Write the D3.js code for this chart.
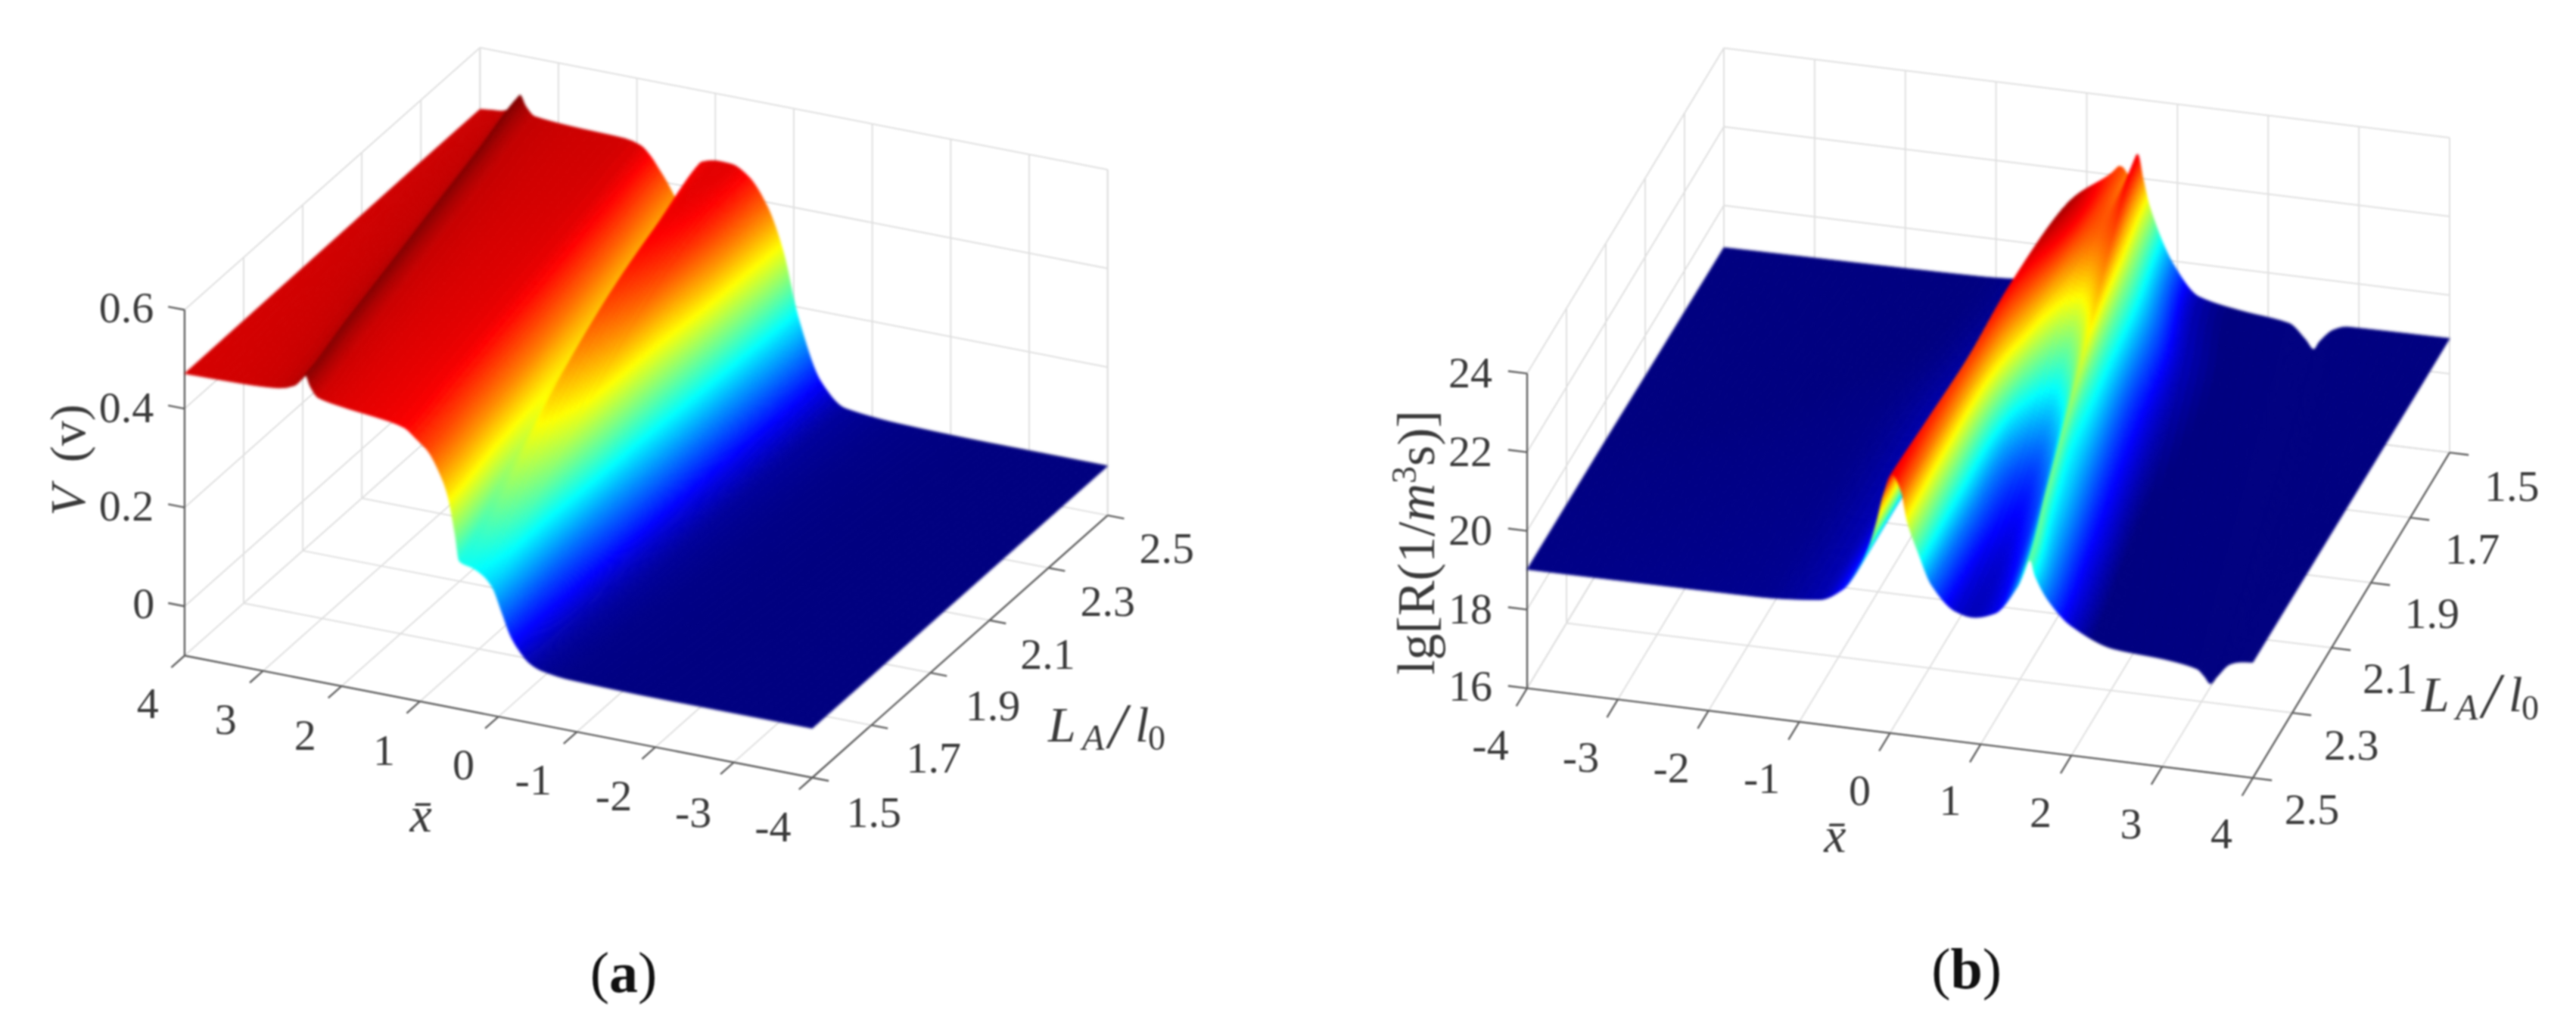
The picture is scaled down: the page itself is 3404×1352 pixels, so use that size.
<!DOCTYPE html>
<html><head><meta charset="utf-8">
<script src="https://d3js.org/d3.v7.min.js"></script>
<style>html,body{margin:0;background:#fff}svg{display:block}text{font-family:"Liberation Serif",serif;fill:#3a3a3a}</style>
</head><body><svg id="c" width="3404" height="1352"></svg>
<script>
// ---------- data ----------
const rowL = [1.5,1.7,1.9,2.1,2.3,2.5];
const xTicksA = [4,3,2,1,0,-1,-2,-3,-4];
const xTicksB = [-4,-3,-2,-1,0,1,2,3,4];
const lTicks = [1.5,1.7,1.9,2.1,2.3,2.5];
const lTickLabels = ["1.5","1.7","1.9","2.1","2.3","2.5"];
const zTicksA = [0,0.2,0.4,0.6];
const zTickLabelsA = ["0","0.2","0.4","0.6"];
const zTicksB = [16,18,20,22,24];
const zTickLabelsB = ["16","18","20","22","24"];

// Panel (a): x position and V value of matched profile knots, one pair per L row
const aX15=[4,3.2,2.8,2.6,2.51,2.46,2.4,2.3,2,1.4,1.2,1.05,.9,.75,.65,.55,.5,.44,.35,.2,.08,-.05,-.15,-.25,-.4,-.55,-.9,-2,-4];
const aX17=[4,3.35,3,2.8,2.72,2.67,2.61,2.5,2.16,1.55,1.35,1.2,1.06,.92,.82,.72,.66,.6,.52,.38,.25,.1,-.05,-.2,-.38,-.58,-1,-2.1,-4];
const aX19=[4,3.5,3.2,3,2.92,2.87,2.81,2.7,2.32,1.7,1.5,1.35,1.2,1.07,.98,.88,.8,.74,.66,.52,.34,.18,.01,-.15,-.37,-.6,-1.1,-2.2,-4];
const aX21=[4,3.62,3.35,3.2,3.12,3.08,3.01,2.9,2.47,1.85,1.65,1.5,1.36,1.25,1.15,1.05,.96,.88,.78,.64,.44,.25,.06,-.11,-.36,-.62,-1.2,-2.3,-4];
const aX23=[4,3.75,3.55,3.4,3.32,3.28,3.22,3.1,2.63,2,1.8,1.67,1.53,1.45,1.35,1.25,1.13,1.03,.88,.74,.52,.3,.1,-.08,-.35,-.64,-1.3,-2.4,-4];
const aX25=[4,3.85,3.72,3.6,3.52,3.49,3.42,3.3,2.78,2.15,1.95,1.84,1.7,1.63,1.52,1.42,1.32,1.17,.956,.79,.58,.34,.14,-.06,-.35,-.66,-1.39,-2.5,-4];
const aV15=[.471,.474,.479,.49,.505,.516,.495,.475,.466,.455,.448,.43,.41,.37,.33,.25,.2,.195,.192,.18,.16,.11,.07,.045,.02,.01,.003,0,0];
const aV17=[.472,.475,.479,.49,.505,.517,.496,.477,.468,.459,.452,.434,.41,.375,.335,.285,.265,.268,.275,.26,.235,.17,.1,.06,.025,.011,.003,0,0];
const aV19=[.473,.476,.48,.49,.505,.518,.497,.478,.47,.463,.456,.438,.41,.38,.345,.32,.325,.345,.36,.345,.315,.24,.14,.085,.032,.012,.003,0,0];
const aV21=[.474,.477,.48,.49,.505,.518,.498,.48,.472,.466,.46,.442,.415,.39,.36,.34,.365,.4,.42,.41,.385,.3,.19,.11,.04,.012,.003,0,0];
const aV23=[.475,.478,.48,.49,.505,.519,.499,.481,.474,.47,.463,.446,.418,.4,.37,.35,.37,.43,.455,.45,.43,.37,.25,.14,.05,.013,.003,0,0];
const aV25=[.475,.478,.48,.49,.505,.52,.5,.482,.476,.473,.465,.45,.42,.404,.375,.352,.41,.456,.464,.463,.445,.392,.309,.177,.057,.013,.003,0,0];

// Panel (b): x position and lg R value of matched profile knots, one pair per L row
const bX15=[-4,-1.16,-.435,-.18,-.04,.1,.2,.26,.36,.38,.39,.4,.41,.43,.46,.49,.53,.56,.62,.69,.96,1.24,1.69,2.23,2.41,2.5,2.57,2.72,2.87,4];
const bX17=[-4,-1.3,-.58,-.32,-.18,-.04,.06,.13,.22,.27,.31,.35,.39,.47,.55,.62,.69,.72,.78,.86,1.17,1.5,2,2.46,2.61,2.71,2.78,2.93,3.07,4];
const bX19=[-4,-1.46,-.74,-.48,-.34,-.2,-.1,-.03,.06,.12,.18,.26,.34,.48,.62,.75,.86,.9,.96,1.04,1.38,1.75,2.26,2.69,2.82,2.92,2.99,3.14,3.27,4];
const bX21=[-4,-1.5,-.77,-.52,-.38,-.24,-.14,-.07,.03,.1,.17,.29,.42,.57,.72,.9,1.03,1.08,1.14,1.25,1.58,1.98,2.5,2.92,3.03,3.12,3.19,3.34,3.46,4];
const bX23=[-4,-1.5,-.775,-.52,-.385,-.245,-.145,-.08,.02,.1,.17,.3,.45,.66,.84,1.05,1.24,1.3,1.37,1.5,1.8,2.22,2.76,3.15,3.25,3.33,3.4,3.55,3.66,4];
const bX25=[-4,-1.5,-.775,-.521,-.383,-.243,-.144,-.075,.024,.121,.19,.317,.456,.72,.9,1.155,1.4,1.547,1.6,1.75,2,2.47,3.02,3.38,3.47,3.53,3.6,3.75,3.85,4];
const bR15=[18.93,19,19.15,19.45,19.85,20.5,21.2,21.7,22.24,22.23,22.22,22.2,22.18,22.12,22.05,22.2,22.45,22.6,22,21.33,19.9,19.17,18.95,18.78,18.42,18.19,18.42,18.75,18.87,18.9];
const bR17=[18.95,19,19.15,19.45,19.9,20.55,21.3,22,22.9,22.72,22.6,22.45,22.3,22.15,22.1,22.13,22.18,22.2,21.6,21,19.85,19.2,18.95,18.78,18.45,18.2,18.43,18.76,18.88,18.9];
const bR19=[18.97,19.02,19.16,19.48,19.92,20.6,21.35,22,22.55,22.35,22.15,21.8,21.4,21,20.85,21.05,21.4,21.5,21,20.6,19.6,19.1,18.9,18.75,18.43,18.22,18.44,18.78,18.89,18.91];
const bR21=[19,19.03,19.17,19.5,19.93,20.6,21.35,21.9,22.3,21.95,21.4,20.65,20.1,19.85,19.75,20,20.65,21,20.6,20.3,19.5,19,18.85,18.7,18.43,18.23,18.45,18.8,18.89,18.92];
const bR23=[19.01,19.04,19.17,19.5,19.93,20.6,21.35,21.95,22.4,22.05,21.4,20.6,19.9,19.45,19.33,19.55,20.3,20.9,20.5,20.1,19.4,18.92,18.78,18.65,18.42,18.25,18.45,18.8,18.9,18.93];
const bR25=[19.02,19.05,19.17,19.5,19.93,20.6,21.35,22.01,22.58,22.2,21.44,20.64,19.9,19.3,19.2,19.37,20.1,20.83,20.45,19.85,19.29,18.84,18.74,18.6,18.42,18.26,18.45,18.82,18.9,18.94];

// ---------- helpers ----------
const svg = d3.select("#c");
const root = svg.append("g").style("filter","blur(0.8px)");

const jet = c0c1 => d3.scaleLinear()
  .domain([0,.11,.36,.61,.86,1].map(t=>c0c1[0]+t*(c0c1[1]-c0c1[0])))
  .range(["#000080","#0000ff","#00ffff","#ffff00","#ff0000","#800000"]).clamp(true);

function pchipRow(xs,zs,i,f){
  const d=k=>(zs[k+1]-zs[k])/(xs[k+1]-xs[k]);
  const m=k=>{
    if(k===0) return d(0);
    if(k===xs.length-1) return d(k-1);
    const a=d(k-1),b=d(k);
    return a*b<=0?0:2*a*b/(a+b);
  };
  const h=xs[i+1]-xs[i],t=f;
  const h00=2*t*t*t-3*t*t+1,h10=t*t*t-2*t*t+t,h01=-2*t*t*t+3*t*t,h11=t*t*t-t*t;
  return {x:xs[i]+h*t, z:h00*zs[i]+h10*h*m(i)+h01*zs[i+1]+h11*h*m(i+1)};
}
function cr(p0,p1,p2,p3,t){
  return .5*((2*p1)+(-p0+p2)*t+(2*p0-5*p1+4*p2-p3)*t*t+(-p0+3*p1-3*p2+p3)*t*t*t);
}

function panel(o){
  const g=root.append("g");
  const sx=d3.scaleLinear().domain(o.xDomain).range([0,1]);
  const sl=d3.scaleLinear().domain(o.lDomain).range([0,1]);
  const sz=d3.scaleLinear().domain(o.zDomain).range([0,o.zh]);
  const P=(x,l,z)=>[
    o.O[0]+sx(x)*o.ex[0]+sl(l)*o.eL[0],
    o.O[1]+sx(x)*o.ex[1]+sl(l)*o.eL[1]-sz(z)];
  const line=(a,b,c,w)=>g.append("path").attr("d",d3.line()([a,b])).attr("stroke",c).attr("stroke-width",w).attr("fill","none");
  const xs=o.xTicks, [x0,x1]=o.xDomain, [lf,lb]=o.lDomain, [z0,z1]=o.zDomain;
  const G="#e0e0e0",A="#606060";
  xs.forEach(x=>line(P(x,lf,z0),P(x,lb,z0),G,2));
  lTicks.forEach(l=>line(P(x0,l,z0),P(x1,l,z0),G,2));
  xs.forEach(x=>line(P(x,lb,z0),P(x,lb,z1),G,2));
  lTicks.forEach(l=>line(P(x0,l,z0),P(x0,l,z1),G,2));
  o.zTicks.forEach(z=>{line(P(x0,lf,z),P(x0,lb,z),G,2);line(P(x0,lb,z),P(x1,lb,z),G,2);});
  line(P(x1,lb,z0),P(x1,lb,z1),G,2);

  line(P(x0,lf,z0),P(x0,lf,z1),A,2.4);
  line(P(x0,lf,z0),P(x1,lf,z0),A,2.4);
  line(P(x1,lf,z0),P(x1,lb,z0),A,2.4);
  xs.forEach(x=>line(P(x,lf,z0),P(x,lf+o.tickL,z0),A,2.4));
  lTicks.forEach(l=>line(P(x1,l,z0),P(x1+o.tickX,l,z0),A,2.4));
  o.zTicks.forEach(z=>line(P(x0,lf,z),P(x0-o.tickX,lf,z),A,2.4));

  // surface: lofted through the knot rows
  const nK=o.xRows[0].length, nR=rowL.length, cr0=o.cLim[1]-o.cLim[0];
  const subs=d3.range(nK-1).map(i=>{
    let mx=0,mz=0;
    for(let r=0;r<nR;r++){
      const a=P(o.xRows[r][i],rowL[r],o.zRows[r][i]),b=P(o.xRows[r][i+1],rowL[r],o.zRows[r][i+1]);
      mx=Math.max(mx,Math.hypot(a[0]-b[0],a[1]-b[1]));
      mz=Math.max(mz,Math.abs(o.zRows[r][i]-o.zRows[r][i+1])/cr0);
    }
    return Math.max(1,Math.ceil(mx/12),Math.ceil(mz*80));
  });
  const params=[];
  subs.forEach((n,i)=>{for(let k=0;k<n;k++)params.push([i,k/n]);});
  params.push([nK-2,1]);
  const rowsFine=d3.range(nR).map(r=>params.map(([i,f])=>pchipRow(o.xRows[r],o.zRows[r],i,f)));
  const nS=110;
  const strips=d3.range(nS+1).map(s=>{
    const u=s/nS*(nR-1), j=Math.min(nR-2,Math.floor(u)), t=u-j;
    const R=k=>rowsFine[Math.max(0,Math.min(nR-1,k))];
    return params.map((_,q)=>{
      const c=a=>cr(R(j-1)[q][a],R(j)[q][a],R(j+1)[q][a],R(j+2)[q][a],t);
      const l=rowL[0]+(rowL[nR-1]-rowL[0])*s/nS;
      const z=c("z");
      return {p:P(c("x"),l,z),z};
    });
  });
  const color=jet(o.cLim);
  const cells=[];
  const order=o.backHighL?d3.range(nS-1,-1,-1):d3.range(0,nS);
  order.forEach(s=>{
    for(let q=0;q<params.length-1;q++){
      const a=strips[s][q],b=strips[s][q+1],c=strips[s+1][q+1],d=strips[s+1][q];
      cells.push({pts:[a.p,b.p,c.p,d.p],z:(a.z+b.z+c.z+d.z)/4});
    }
  });
  g.append("g").style("filter","blur(1.4px)").selectAll("path").data(cells).join("path")
    .attr("d",d=>d3.line()(d.pts)+"Z")
    .attr("fill",d=>color(d.z)).attr("stroke",d=>color(d.z))
    .attr("stroke-width",.9).attr("stroke-linejoin","round");

  // text
  const T=(s,p)=>g.append("text").attr("x",p[0]).attr("y",p[1])
    .attr("text-anchor","middle").attr("dominant-baseline","central")
    .attr("font-size",58).text(s);
  o.xTickPos.forEach((p,i)=>T(String(xs[i]),p));
  o.lTickPos.forEach((p,i)=>T(lTickLabels[i],p));
  o.zTickPos.forEach((p,i)=>T(o.zLabels[i],p));
  g.append("text").attr("x",o.xLab[0]).attr("y",o.xLab[1]).attr("text-anchor","middle").attr("dominant-baseline","central")
    .attr("font-size",66).attr("font-style","italic").text("x\u0304");
  // L_A / l_0 label, placed piece by piece as in the original
  const [lx,ly]=o.lLab;
  const la=g.append("text");
  la.append("tspan").attr("x",lx).attr("y",ly).attr("font-size",66).attr("font-style","italic").text("L");
  la.append("tspan").attr("x",lx+45).attr("y",ly+11).attr("font-size",48).attr("font-style","italic").text("A");
  la.append("tspan").attr("x",lx+80).attr("y",ly+8).attr("font-size",84).attr("font-style","italic").text("/");
  la.append("tspan").attr("x",lx+115).attr("y",ly).attr("font-size",66).attr("font-style","italic").text("l");
  la.append("tspan").attr("x",lx+132).attr("y",ly+11).attr("font-size",46).text("0");
  const cap=g.append("text").attr("x",o.cap[0]).attr("y",o.cap[1]).attr("text-anchor","middle").attr("dominant-baseline","central").attr("font-size",76).style("fill","#111");
  cap.append("tspan").text("(");
  cap.append("tspan").attr("font-weight","bold").text(o.capText);
  cap.append("tspan").text(")");
  return g;
}

const zx=v=>v*1.0842, zy=v=>v*.8622, zbx=v=>1700+v*1.0867;
const pa=(x,y)=>[zx(x),zy(y)], pb=(x,y)=>[zbx(x),zy(y)];

const ga=panel({
  O:pa(225,1005), ex:[zx(990-225),zy(1192-1005)], eL:[zx(1350-990),zy(790-1192)], zh:zy(530),
  xDomain:[4,-4], lDomain:[1.5,2.5], zDomain:[-.1,.6], xTicks:xTicksA, zTicks:zTicksA, zLabels:zTickLabelsA,
  xRows:[aX15,aX17,aX19,aX21,aX23,aX25], zRows:[aV15,aV17,aV19,aV21,aV23,aV25],
  cLim:[0,.52], backHighL:true, tickL:-.045, tickX:-.21,
  xTickPos:[[180,1078],[275,1102],[372,1127],[468,1150],[565,1172],[650,1195],[748,1220],[845,1245],[942,1267]].map(p=>pa(...p)),
  lTickPos:[[1065,1245],[1138,1162],[1210,1082],[1277,1003],[1350,922],[1422,840]].map(p=>pa(...p)),
  zTickPos:[[175,925],[154,775],[154,625],[154,472]].map(p=>pa(...p)),
  xLab:pa(513,1248), lLab:[1385,980], cap:pa(760,1490), capText:"a"
});
const vt=ga.append("text").attr("transform","translate(112,608) rotate(-90)").attr("text-anchor","middle").attr("font-size",66);
vt.append("tspan").attr("font-style","italic").text("V");
vt.append("tspan").attr("dx",30).text("(v)");

const gb=panel({
  O:[2018,909.6], ex:[959,118.5], eL:[260,-430], zh:416,
  xDomain:[-4,4], lDomain:[2.5,1.5], zDomain:[16,24], xTicks:xTicksB, zTicks:zTicksB, zLabels:zTickLabelsB,
  xRows:[bX15,bX17,bX19,bX21,bX23,bX25], zRows:[bR15,bR17,bR19,bR21,bR23,bR25],
  cLim:[19,23.1], backHighL:false, tickL:.055, tickX:.21,
  xTickPos:[[248,1142],[358,1160],[468,1177],[578,1193],[697,1212],[807,1227],[917,1245],[1027,1262],[1137,1278]].map(p=>pb(...p)),
  lTickPos:[[1490,745],[1442,842],[1393,940],[1342,1040],[1295,1142],[1247,1240]].map(p=>pb(...p)),
  zTickPos:[[1943,906],[1943,804],[1943,700],[1943,596],[1943,492]],
  xLab:pb(667,1280), lLab:[3200,940], cap:pb(827,1485), capText:"b"
});
const rt=gb.append("text").attr("transform","translate(1895,717) rotate(-90)").attr("text-anchor","middle").attr("font-size",70);
rt.append("tspan").text("lg[R(1/");
rt.append("tspan").attr("font-style","italic").text("m");
rt.append("tspan").attr("font-size",46).attr("dy",-24).text("3");
rt.append("tspan").attr("dy",24).text("s)]");
</script></body></html>
